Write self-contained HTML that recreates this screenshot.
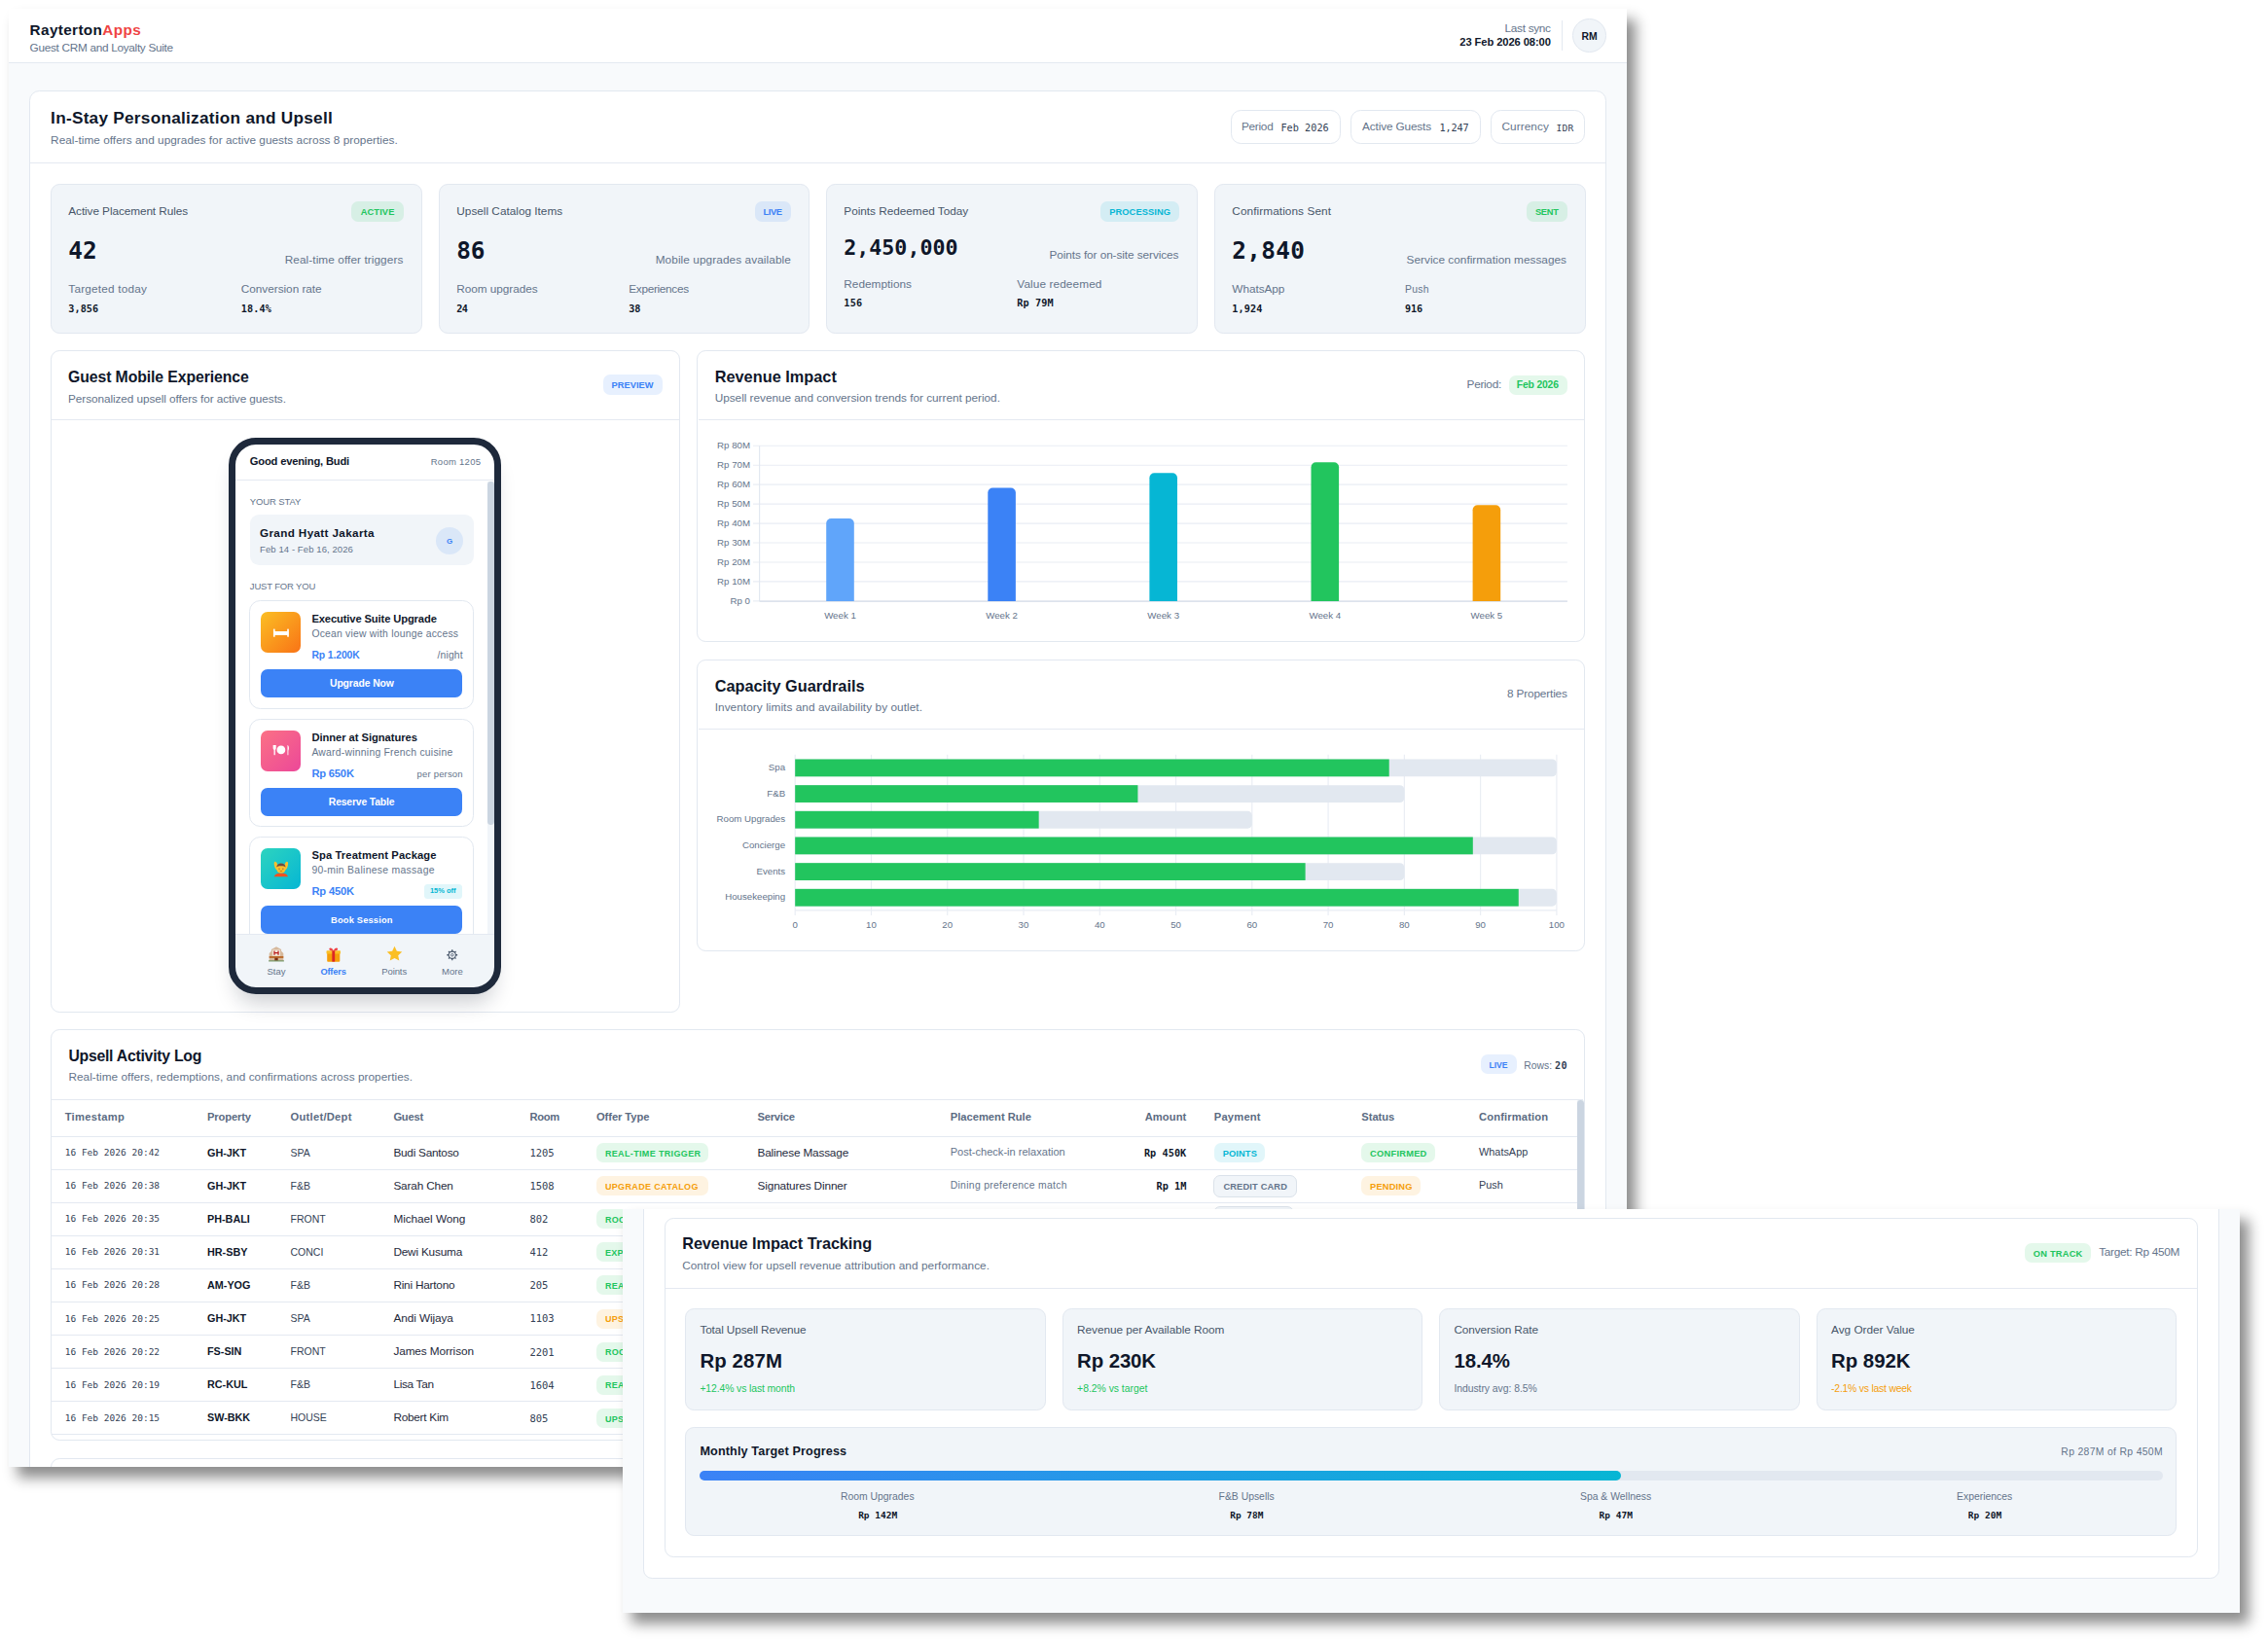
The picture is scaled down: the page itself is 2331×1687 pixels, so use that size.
<!DOCTYPE html>
<html lang="en"><head><meta charset="utf-8"><title>RaytertonApps - In-Stay Personalization and Upsell</title><style>html,body{margin:0;padding:0;background:#fff}
body{width:2331px;height:1687px;position:relative;overflow:hidden;font-family:"Liberation Sans",sans-serif}
.shot{position:absolute;overflow:hidden;background:#f8fafc}
.b{position:absolute;box-sizing:border-box}
.t{position:absolute;white-space:nowrap;line-height:0;font-family:"Liberation Sans",sans-serif}
.t::before{content:"";display:inline-block;height:24px;width:0}
svg text{font-family:"Liberation Sans",sans-serif}
</style></head><body>
<div class="shot" style="left:9.00px;top:9.00px;width:1663.00px;height:1499.00px;box-shadow:9px 11px 13px rgba(0,0,0,.45)"><div class="b" style="left:0.00px;top:0.00px;width:1663.00px;height:55.30px;background:#fff;"></div>
<div class="b" style="left:0.00px;top:55.00px;width:1663.00px;height:1.00px;background:#e4e9f1;"></div>
<span class="t" style="left:21.60px;top:3.10px;font-size:15.30px;color:#0f172a;font-weight:700;letter-spacing:0.367px;">Rayterton<span style="color:#ef4444">Apps</span></span>
<span class="t" style="left:21.60px;top:19.90px;font-size:11.80px;color:#64748b;letter-spacing:-0.303px;">Guest CRM and Loyalty Suite</span>
<span class="t" style="left:1537.60px;top:0.10px;font-size:11.80px;color:#64748b;letter-spacing:-0.307px;">Last sync</span>
<span class="t" style="left:1491.30px;top:14.00px;font-size:11.20px;color:#0f172a;font-weight:700;letter-spacing:-0.097px;">23 Feb 2026 08:00</span>
<div class="b" style="left:1596.00px;top:12.40px;width:1.00px;height:30.60px;background:#e4e9f1;"></div>
<div class="b" style="left:1607.10px;top:10.30px;width:34.80px;height:34.80px;background:#f1f5f9;border:1.15px solid #e2e8f0;border-radius:50%;"></div>
<span class="t" style="left:1616.50px;top:7.80px;font-size:10.40px;color:#0f172a;font-weight:700;letter-spacing:-0.072px;">RM</span>
<div class="b" style="left:20.70px;top:83.70px;width:1621.60px;height:1507.80px;background:#fff;border:1.15px solid #e2e8f0;border-radius:10.4px;"></div>
<div class="b" style="left:22.00px;top:158.00px;width:1619.00px;height:1.00px;background:#e4e9f1;"></div>
<span class="t" style="left:43.10px;top:93.90px;font-size:17.20px;color:#0f172a;font-weight:700;letter-spacing:0.268px;">In-Stay Personalization and Upsell</span>
<span class="t" style="left:43.10px;top:115.40px;font-size:11.80px;color:#64748b;letter-spacing:0.032px;">Real-time offers and upgrades for active guests across 8 properties.</span>
<div class="b" style="left:1255.80px;top:103.50px;width:113.20px;height:35.30px;background:#fff;border:1.15px solid #e2e8f0;border-radius:10.4px;"></div>
<span class="t" style="left:1267.00px;top:100.80px;font-size:11.80px;color:#64748b;letter-spacing:-0.280px;">Period</span>
<span class="t" style="left:1307.40px;top:101.90px;font-size:10.20px;color:#334155;font-family:'DejaVu Sans Mono','Liberation Mono',monospace;letter-spacing:0.041px;">Feb 2026</span>
<div class="b" style="left:1378.60px;top:103.50px;width:134.50px;height:35.30px;background:#fff;border:1.15px solid #e2e8f0;border-radius:10.4px;"></div>
<span class="t" style="left:1391.00px;top:100.80px;font-size:11.80px;color:#64748b;letter-spacing:-0.134px;">Active Guests</span>
<span class="t" style="left:1470.50px;top:101.90px;font-size:10.20px;color:#334155;font-family:'DejaVu Sans Mono','Liberation Mono',monospace;letter-spacing:-0.125px;">1,247</span>
<div class="b" style="left:1522.70px;top:103.50px;width:97.50px;height:35.30px;background:#fff;border:1.15px solid #e2e8f0;border-radius:10.4px;"></div>
<span class="t" style="left:1534.50px;top:100.80px;font-size:11.80px;color:#64748b;letter-spacing:0.064px;">Currency</span>
<span class="t" style="left:1590.50px;top:101.90px;font-size:9.50px;color:#334155;font-family:'DejaVu Sans Mono','Liberation Mono',monospace;letter-spacing:0.302px;">IDR</span>
<div class="b" style="left:43.00px;top:179.50px;width:381.80px;height:154.20px;background:#f1f5f9;border:1.15px solid #e2e8f0;border-radius:9.2px;"></div>
<span class="t" style="left:61.30px;top:188.40px;font-size:11.80px;color:#475569;letter-spacing:-0.086px;">Active Placement Rules</span>
<div class="b" style="left:352.00px;top:198.30px;width:53.80px;height:21.20px;background:rgba(34,197,94,0.120);border-radius:7.0px;"></div>
<span class="t" style="left:361.70px;top:188.40px;font-size:9.30px;color:#22c55e;font-weight:700;letter-spacing:0.123px;">ACTIVE</span>
<span class="t" style="left:61.30px;top:233.40px;font-size:24.40px;color:#0f172a;font-weight:700;font-family:'DejaVu Sans Mono','Liberation Mono',monospace;letter-spacing:-0.102px;">42</span>
<span class="t" style="left:283.70px;top:238.20px;font-size:11.80px;color:#64748b;letter-spacing:0.080px;">Real-time offer triggers</span>
<span class="t" style="left:61.30px;top:267.80px;font-size:11.80px;color:#64748b;letter-spacing:0.188px;">Targeted today</span>
<span class="t" style="left:238.80px;top:267.80px;font-size:11.80px;color:#64748b;letter-spacing:-0.029px;">Conversion rate</span>
<span class="t" style="left:61.30px;top:287.60px;font-size:10.20px;color:#0f172a;font-weight:700;font-family:'DejaVu Sans Mono','Liberation Mono',monospace;letter-spacing:0.050px;">3,856</span>
<span class="t" style="left:238.80px;top:287.60px;font-size:10.20px;color:#0f172a;font-weight:700;font-family:'DejaVu Sans Mono','Liberation Mono',monospace;letter-spacing:0.124px;">18.4%</span>
<div class="b" style="left:442.00px;top:179.50px;width:381.40px;height:154.20px;background:#f1f5f9;border:1.15px solid #e2e8f0;border-radius:9.2px;"></div>
<span class="t" style="left:460.30px;top:188.40px;font-size:11.80px;color:#475569;">Upsell Catalog Items</span>
<div class="b" style="left:766.90px;top:198.30px;width:37.10px;height:21.20px;background:rgba(59,130,246,0.120);border-radius:7.0px;"></div>
<span class="t" style="left:775.40px;top:188.40px;font-size:9.30px;color:#3b82f6;font-weight:700;letter-spacing:-0.364px;">LIVE</span>
<span class="t" style="left:460.30px;top:233.40px;font-size:24.40px;color:#0f172a;font-weight:700;font-family:'DejaVu Sans Mono','Liberation Mono',monospace;letter-spacing:-0.202px;">86</span>
<span class="t" style="left:664.70px;top:238.20px;font-size:11.80px;color:#64748b;letter-spacing:0.087px;">Mobile upgrades available</span>
<span class="t" style="left:460.30px;top:267.80px;font-size:11.80px;color:#64748b;letter-spacing:-0.055px;">Room upgrades</span>
<span class="t" style="left:637.30px;top:267.80px;font-size:11.80px;color:#64748b;letter-spacing:-0.316px;">Experiences</span>
<span class="t" style="left:460.30px;top:287.60px;font-size:10.20px;color:#0f172a;font-weight:700;font-family:'DejaVu Sans Mono','Liberation Mono',monospace;letter-spacing:-0.591px;">24</span>
<span class="t" style="left:637.30px;top:287.60px;font-size:10.20px;color:#0f172a;font-weight:700;font-family:'DejaVu Sans Mono','Liberation Mono',monospace;letter-spacing:-0.091px;">38</span>
<div class="b" style="left:840.00px;top:179.50px;width:382.00px;height:154.20px;background:#f1f5f9;border:1.15px solid #e2e8f0;border-radius:9.2px;"></div>
<span class="t" style="left:858.30px;top:188.40px;font-size:11.80px;color:#475569;letter-spacing:-0.024px;">Points Redeemed Today</span>
<div class="b" style="left:1122.40px;top:198.30px;width:81.10px;height:21.20px;background:rgba(6,182,212,0.120);border-radius:7.0px;"></div>
<span class="t" style="left:1131.20px;top:188.40px;font-size:9.30px;color:#06b6d4;font-weight:700;letter-spacing:0.085px;">PROCESSING</span>
<span class="t" style="left:858.30px;top:228.80px;font-size:21.64px;color:#0f172a;font-weight:700;font-family:'DejaVu Sans Mono','Liberation Mono',monospace;">2,450,000</span>
<span class="t" style="left:1069.40px;top:232.70px;font-size:11.80px;color:#64748b;letter-spacing:-0.077px;">Points for on-site services</span>
<span class="t" style="left:858.30px;top:262.50px;font-size:11.80px;color:#64748b;letter-spacing:0.020px;">Redemptions</span>
<span class="t" style="left:1036.30px;top:262.50px;font-size:11.80px;color:#64748b;letter-spacing:0.106px;">Value redeemed</span>
<span class="t" style="left:858.30px;top:282.30px;font-size:10.20px;color:#0f172a;font-weight:700;font-family:'DejaVu Sans Mono','Liberation Mono',monospace;letter-spacing:0.245px;">156</span>
<span class="t" style="left:1036.30px;top:282.30px;font-size:10.20px;color:#0f172a;font-weight:700;font-family:'DejaVu Sans Mono','Liberation Mono',monospace;letter-spacing:0.116px;">Rp 79M</span>
<div class="b" style="left:1239.00px;top:179.50px;width:381.50px;height:154.20px;background:#f1f5f9;border:1.15px solid #e2e8f0;border-radius:9.2px;"></div>
<span class="t" style="left:1257.30px;top:188.40px;font-size:11.80px;color:#475569;letter-spacing:0.079px;">Confirmations Sent</span>
<div class="b" style="left:1560.10px;top:198.30px;width:41.60px;height:21.20px;background:rgba(34,197,94,0.120);border-radius:7.0px;"></div>
<span class="t" style="left:1568.90px;top:188.40px;font-size:9.30px;color:#22c55e;font-weight:700;letter-spacing:-0.262px;">SENT</span>
<span class="t" style="left:1257.30px;top:232.70px;font-size:24.40px;color:#0f172a;font-weight:700;font-family:'DejaVu Sans Mono','Liberation Mono',monospace;letter-spacing:0.289px;">2,840</span>
<span class="t" style="left:1436.60px;top:238.20px;font-size:11.80px;color:#64748b;letter-spacing:0.016px;">Service confirmation messages</span>
<span class="t" style="left:1257.30px;top:267.80px;font-size:11.80px;color:#64748b;letter-spacing:-0.051px;">WhatsApp</span>
<span class="t" style="left:1434.90px;top:267.80px;font-size:10.40px;color:#64748b;letter-spacing:0.329px;">Push</span>
<span class="t" style="left:1257.30px;top:287.60px;font-size:10.20px;color:#0f172a;font-weight:700;font-family:'DejaVu Sans Mono','Liberation Mono',monospace;letter-spacing:0.125px;">1,924</span>
<span class="t" style="left:1434.90px;top:287.60px;font-size:10.20px;color:#0f172a;font-weight:700;font-family:'DejaVu Sans Mono','Liberation Mono',monospace;letter-spacing:-0.056px;">916</span>
<div class="b" style="left:42.50px;top:351.00px;width:647.80px;height:680.80px;background:#fff;border:1.15px solid #e2e8f0;border-radius:9.2px;"></div>
<div class="b" style="left:44.00px;top:422.00px;width:644.80px;height:1.00px;background:#e4e9f1;"></div>
<span class="t" style="left:61.00px;top:359.90px;font-size:15.80px;color:#0f172a;font-weight:700;letter-spacing:-0.093px;">Guest Mobile Experience</span>
<span class="t" style="left:61.00px;top:380.60px;font-size:11.80px;color:#64748b;letter-spacing:-0.077px;">Personalized upsell offers for active guests.</span>
<div class="b" style="left:610.60px;top:376.40px;width:61.20px;height:20.70px;background:rgba(59,130,246,0.120);border-radius:7.0px;"></div>
<span class="t" style="left:619.60px;top:365.90px;font-size:9.30px;color:#3b82f6;font-weight:700;">PREVIEW</span>
<div class="b" style="left:229.20px;top:443.90px;width:273.50px;height:566.10px;background:#fff;border-radius:24.0px;"></div>
<span class="t" style="left:247.80px;top:445.30px;font-size:11.20px;color:#0f172a;font-weight:700;letter-spacing:-0.193px;">Good evening, Budi</span>
<span class="t" style="left:433.70px;top:445.00px;font-size:9.50px;color:#64748b;letter-spacing:0.273px;">Room 1205</span>
<div class="b" style="left:233.00px;top:484.00px;width:266.00px;height:1.00px;background:#e4e9f1;"></div>
<div class="b" style="left:491.90px;top:485.50px;width:6.90px;height:465.50px;background:#f1f5f9;"></div>
<div class="b" style="left:491.90px;top:485.50px;width:6.90px;height:353.80px;background:#cbd5e1;border-radius:3.4px;"></div>
<span class="t" style="left:247.80px;top:485.80px;font-size:9.50px;color:#64748b;letter-spacing:-0.123px;">YOUR STAY</span>
<div class="b" style="left:247.50px;top:520.30px;width:230.30px;height:52.20px;background:#f1f5f9;border-radius:9.2px;"></div>
<span class="t" style="left:258.00px;top:518.80px;font-size:11.70px;color:#0f172a;font-weight:700;letter-spacing:0.360px;">Grand Hyatt Jakarta</span>
<span class="t" style="left:258.00px;top:535.00px;font-size:9.50px;color:#64748b;letter-spacing:0.095px;">Feb 14 - Feb 16, 2026</span>
<div class="b" style="left:439.20px;top:532.70px;width:28.00px;height:28.00px;background:rgba(59,130,246,0.120);border-radius:50%;"></div>
<span class="t" style="left:450.08px;top:525.60px;font-size:8.00px;color:#3b82f6;font-weight:700;">G</span>
<span class="t" style="left:247.80px;top:573.40px;font-size:9.50px;color:#64748b;letter-spacing:-0.168px;">JUST FOR YOU</span>
<div class="b" style="left:247.00px;top:608.00px;width:231.30px;height:111.70px;background:#fff;border:1.15px solid #e2e8f0;border-radius:11.5px;"></div>
<div class="b" style="left:258.50px;top:619.90px;width:41.80px;height:41.80px;background:linear-gradient(135deg,#fbbf24,#f97316);border-radius:7.0px;"><svg viewBox="0 0 42 42" width="100%" height="100%"><g fill="#fff"><rect x="13" y="17.6" width="1.7" height="8.4" rx=".6"/><rect x="27.3" y="17.6" width="1.7" height="8.4" rx=".6"/><rect x="13.5" y="20" width="15" height="4" rx=".8"/></g></svg></div>
<span class="t" style="left:311.40px;top:607.30px;font-size:11.20px;color:#0f172a;font-weight:700;letter-spacing:-0.124px;">Executive Suite Upgrade</span>
<span class="t" style="left:311.40px;top:621.60px;font-size:10.40px;color:#64748b;letter-spacing:0.204px;">Ocean view with lounge access</span>
<span class="t" style="left:311.40px;top:643.80px;font-size:10.40px;color:#3b82f6;font-weight:700;letter-spacing:-0.110px;">Rp 1.200K</span>
<span class="t" style="left:440.60px;top:644.00px;font-size:10.40px;color:#64748b;letter-spacing:0.114px;">/night</span>
<div class="b" style="left:258.60px;top:679.10px;width:207.80px;height:28.60px;background:#3b82f6;border-radius:7.0px;"></div>
<span class="t" style="left:330.00px;top:672.60px;font-size:10.40px;color:#fff;font-weight:700;letter-spacing:-0.113px;">Upgrade Now</span>
<div class="b" style="left:247.00px;top:730.00px;width:231.30px;height:110.80px;background:#fff;border:1.15px solid #e2e8f0;border-radius:11.5px;"></div>
<div class="b" style="left:258.50px;top:741.90px;width:41.80px;height:41.80px;background:linear-gradient(135deg,#fb7185,#ec4899);border-radius:7.0px;"><svg viewBox="0 0 42 42" width="100%" height="100%"><g fill="#fff"><circle cx="21" cy="20" r="4.4"/><rect x="13.6" y="15" width="1.3" height="10.4" rx=".6"/><path d="M12.7 15h3.100v3.300a1.550 1.550 0 0 1-3.100 0z"/><path d="M27.600 25.400V15c1.700.600 1.900 4 .900 5.800v4.600z"/></g></svg></div>
<span class="t" style="left:311.40px;top:729.30px;font-size:11.20px;color:#0f172a;font-weight:700;letter-spacing:-0.044px;">Dinner at Signatures</span>
<span class="t" style="left:311.40px;top:743.60px;font-size:10.40px;color:#64748b;letter-spacing:0.236px;">Award-winning French cuisine</span>
<span class="t" style="left:311.40px;top:765.80px;font-size:11.20px;color:#3b82f6;font-weight:700;letter-spacing:-0.200px;">Rp 650K</span>
<span class="t" style="left:419.60px;top:766.00px;font-size:9.50px;color:#64748b;letter-spacing:0.177px;">per person</span>
<div class="b" style="left:258.60px;top:801.10px;width:207.80px;height:28.60px;background:#3b82f6;border-radius:7.0px;"></div>
<span class="t" style="left:328.80px;top:794.60px;font-size:10.40px;color:#fff;font-weight:700;letter-spacing:-0.165px;">Reserve Table</span>
<div class="b" style="left:247.00px;top:850.90px;width:231.30px;height:115.60px;background:#fff;border:1.15px solid #e2e8f0;border-radius:11.5px;"></div>
<div class="b" style="left:258.50px;top:862.80px;width:41.80px;height:41.80px;background:linear-gradient(135deg,#2dd4bf,#06b6d4);border-radius:7.0px;"><svg viewBox="0 0 42 42" width="100%" height="100%"><path d="M13.800 29.300c1.200-2.800 4-3.600 7.200-3.600s6 .8 7.200 3.600z" fill="#f4511e"/><ellipse cx="15.800" cy="18" rx="1.700" ry="4.300" transform="rotate(-14 15.800 18)" fill="#fbc02d"/><ellipse cx="26.200" cy="18" rx="1.700" ry="4.300" transform="rotate(14 26.200 18)" fill="#fbc02d"/><circle cx="21" cy="20.800" r="4.900" fill="#fbc02d"/><path d="M16.300 19.600c.300-5.400 9.100-5.400 9.400 0-1.600-1.700-7.800-1.700-9.400 0z" fill="#6d4c41"/><path d="M18.300 21.300h1.600M22.100 21.300h1.600" stroke="#6d4c41" stroke-width=".7"/><path d="M19.600 23.300q1.400.9 2.800 0" stroke="#a1530f" stroke-width=".6" fill="none"/></svg></div>
<span class="t" style="left:311.40px;top:850.20px;font-size:11.20px;color:#0f172a;font-weight:700;letter-spacing:0.126px;">Spa Treatment Package</span>
<span class="t" style="left:311.40px;top:864.50px;font-size:10.40px;color:#64748b;letter-spacing:0.298px;">90-min Balinese massage</span>
<span class="t" style="left:311.40px;top:886.70px;font-size:11.20px;color:#3b82f6;font-weight:700;letter-spacing:-0.167px;">Rp 450K</span>
<div class="b" style="left:426.50px;top:899.60px;width:39.90px;height:15.40px;background:rgba(6,182,212,0.120);border-radius:3.5px;"></div>
<span class="t" style="left:432.90px;top:885.20px;font-size:7.53px;color:#06b6d4;font-weight:700;">15% off</span>
<div class="b" style="left:258.60px;top:922.00px;width:207.80px;height:28.60px;background:#3b82f6;border-radius:7.0px;"></div>
<span class="t" style="left:331.10px;top:915.50px;font-size:9.30px;color:#fff;font-weight:700;letter-spacing:0.171px;">Book Session</span>
<div class="b" style="left:232.00px;top:951.40px;width:268.00px;height:55.60px;background:#f1f5f9;border-radius:0 0 22px 22px;"></div>
<div class="b" style="left:232.00px;top:951.00px;width:268.00px;height:1.00px;background:#e4e9f1;"></div>
<div class="b" style="left:266.20px;top:962.80px;width:18.00px;height:18.00px;"><svg viewBox="0 0 16 16" width="100%" height="100%"><path d="M1.500 14V7l2-2v-1.500l4.500-2.500 4.500 2.500V5l2 2v7z" fill="#d6b89c"/><rect x="4.500" y="4" width="7" height="5.500" fill="#f5e9dc"/><path d="M6.200 4.800v3.900M9.800 4.800v3.900M6.200 6.750h3.600" stroke="#b91c1c" stroke-width="1.100" fill="none"/><rect x="1.500" y="10" width="13" height="1.300" fill="#b45309"/><rect x="6.500" y="11.300" width="3" height="2.700" fill="#7c2d12"/><rect x="1" y="13.600" width="14" height="1" fill="#6b8e5a"/></svg></div>
<span class="t" style="left:265.40px;top:968.90px;font-size:9.50px;color:#64748b;letter-spacing:0.067px;">Stay</span>
<div class="b" style="left:325.25px;top:963.05px;width:17.50px;height:17.50px;"><svg viewBox="0 0 16 16" width="100%" height="100%"><rect x="2" y="6.500" width="12" height="8.700" rx=".8" fill="#f59e0b"/><rect x="1.400" y="4.800" width="13.200" height="3" rx=".6" fill="#fbbf24"/><rect x="6.700" y="4.800" width="2.600" height="10.400" fill="#dc2626"/><path d="M8 4.900c-2-4.200-5.400-2.300-3.500-.500.900.700 2.500.500 3.500.500zM8 4.900c2-4.200 5.400-2.300 3.500-.500-.900.700-2.500.500-3.500.500z" fill="#ef4444"/></svg></div>
<span class="t" style="left:320.40px;top:968.90px;font-size:9.30px;color:#3b82f6;font-weight:700;letter-spacing:-0.178px;">Offers</span>
<div class="b" style="left:387.90px;top:963.30px;width:17.00px;height:17.00px;"><svg viewBox="0 0 16 16" width="100%" height="100%"><path d="M8 .8l2.200 4.700 5.100.600-3.800 3.500 1 5.100L8 12.200l-4.500 2.500 1-5.100L.7 6.100l5.100-.600z" fill="#fbbf24"/></svg></div>
<span class="t" style="left:383.20px;top:968.90px;font-size:9.50px;color:#64748b;letter-spacing:-0.082px;">Points</span>
<div class="b" style="left:449.45px;top:965.05px;width:13.50px;height:13.50px;"><svg viewBox="0 0 16 16" width="100%" height="100%"><g fill="none" stroke="#475569"><circle cx="8" cy="8" r="4.300" stroke-width="1.300"/><circle cx="8" cy="8" r="1.500" stroke-width="1"/><path d="M8 1.600v2M8 12.400v2M1.600 8h2M12.400 8h2M3.500 3.500l1.400 1.400M11.100 11.100l1.400 1.400M3.500 12.500l1.400-1.400M11.100 4.900l1.400-1.400" stroke-width="1.500"/></g></svg></div>
<span class="t" style="left:445.00px;top:968.90px;font-size:9.50px;color:#64748b;letter-spacing:0.047px;">More</span>
<div class="b" style="left:226.20px;top:440.90px;width:279.50px;height:572.10px;border:7px solid #1e293b;border-radius:28.0px;box-shadow:0 16px 22px -8px rgba(15,23,42,.22);"></div>
<div class="b" style="left:707.40px;top:351.10px;width:913.10px;height:300.20px;background:#fff;border:1.15px solid #e2e8f0;border-radius:9.2px;"></div>
<div class="b" style="left:708.90px;top:422.00px;width:910.10px;height:1.00px;background:#e4e9f1;"></div>
<span class="t" style="left:725.70px;top:359.80px;font-size:16.30px;color:#0f172a;font-weight:700;letter-spacing:0.021px;">Revenue Impact</span>
<span class="t" style="left:725.70px;top:380.10px;font-size:11.80px;color:#64748b;letter-spacing:-0.022px;">Upsell revenue and conversion trends for current period.</span>
<span class="t" style="left:1498.60px;top:366.10px;font-size:11.80px;color:#64748b;letter-spacing:-0.301px;">Period:</span>
<div class="b" style="left:1541.80px;top:376.60px;width:60.10px;height:20.30px;background:rgba(34,197,94,0.120);border-radius:7.0px;"></div>
<span class="t" style="left:1549.80px;top:366.10px;font-size:10.40px;color:#22c55e;font-weight:700;letter-spacing:-0.187px;">Feb 2026</span>
<svg class="b" style="left:709.00px;top:424.00px;width:910.00px;height:226.00px" viewBox="718 433 910 226"><line x1="774" x2="1610.9" y1="617.90" y2="617.90" stroke="#e9edf4" stroke-width="1.15"/><text x="771" y="620.50" text-anchor="end" font-size="9.7" fill="#64748b">Rp 0</text><line x1="774" x2="1610.9" y1="597.94" y2="597.94" stroke="#e9edf4" stroke-width="1.15"/><text x="771" y="600.54" text-anchor="end" font-size="9.7" fill="#64748b">Rp 10M</text><line x1="774" x2="1610.9" y1="577.99" y2="577.99" stroke="#e9edf4" stroke-width="1.15"/><text x="771" y="580.59" text-anchor="end" font-size="9.7" fill="#64748b">Rp 20M</text><line x1="774" x2="1610.9" y1="558.03" y2="558.03" stroke="#e9edf4" stroke-width="1.15"/><text x="771" y="560.63" text-anchor="end" font-size="9.7" fill="#64748b">Rp 30M</text><line x1="774" x2="1610.9" y1="538.08" y2="538.08" stroke="#e9edf4" stroke-width="1.15"/><text x="771" y="540.68" text-anchor="end" font-size="9.7" fill="#64748b">Rp 40M</text><line x1="774" x2="1610.9" y1="518.12" y2="518.12" stroke="#e9edf4" stroke-width="1.15"/><text x="771" y="520.72" text-anchor="end" font-size="9.7" fill="#64748b">Rp 50M</text><line x1="774" x2="1610.9" y1="498.16" y2="498.16" stroke="#e9edf4" stroke-width="1.15"/><text x="771" y="500.76" text-anchor="end" font-size="9.7" fill="#64748b">Rp 60M</text><line x1="774" x2="1610.9" y1="478.21" y2="478.21" stroke="#e9edf4" stroke-width="1.15"/><text x="771" y="480.81" text-anchor="end" font-size="9.7" fill="#64748b">Rp 70M</text><line x1="774" x2="1610.9" y1="458.25" y2="458.25" stroke="#e9edf4" stroke-width="1.15"/><text x="771" y="460.85" text-anchor="end" font-size="9.7" fill="#64748b">Rp 80M</text><line x1="780.6" x2="780.6" y1="458.2" y2="618" stroke="#e2e8f0" stroke-width="1.15"/><line x1="780.6" x2="1610.9" y1="618.20" y2="618.20" stroke="#dde3ec" stroke-width="1.6"/><path d="M849.20 617.90V538.00a5 5 0 0 1 5 -5H872.80a5 5 0 0 1 5 5V617.90z" fill="#60a5fa"/><text x="863.50" y="635.8" text-anchor="middle" font-size="9.7" fill="#64748b">Week 1</text><path d="M1015.30 617.90V506.50a5 5 0 0 1 5 -5H1038.90a5 5 0 0 1 5 5V617.90z" fill="#3b82f6"/><text x="1029.60" y="635.8" text-anchor="middle" font-size="9.7" fill="#64748b">Week 2</text><path d="M1181.40 617.90V491.30a5 5 0 0 1 5 -5H1205.00a5 5 0 0 1 5 5V617.90z" fill="#06b6d4"/><text x="1195.70" y="635.8" text-anchor="middle" font-size="9.7" fill="#64748b">Week 3</text><path d="M1347.50 617.90V480.30a5 5 0 0 1 5 -5H1371.10a5 5 0 0 1 5 5V617.90z" fill="#22c55e"/><text x="1361.80" y="635.8" text-anchor="middle" font-size="9.7" fill="#64748b">Week 4</text><path d="M1513.60 617.90V524.30a5 5 0 0 1 5 -5H1537.20a5 5 0 0 1 5 5V617.90z" fill="#f59e0b"/><text x="1527.90" y="635.8" text-anchor="middle" font-size="9.7" fill="#64748b">Week 5</text></svg>
<div class="b" style="left:707.40px;top:669.00px;width:913.10px;height:300.20px;background:#fff;border:1.15px solid #e2e8f0;border-radius:9.2px;"></div>
<div class="b" style="left:708.90px;top:740.00px;width:910.10px;height:1.00px;background:#e4e9f1;"></div>
<span class="t" style="left:725.70px;top:677.60px;font-size:16.30px;color:#0f172a;font-weight:700;">Capacity Guardrails</span>
<span class="t" style="left:725.70px;top:698.00px;font-size:11.80px;color:#64748b;letter-spacing:0.065px;">Inventory limits and availability by outlet.</span>
<span class="t" style="left:1540.10px;top:683.60px;font-size:11.80px;color:#64748b;letter-spacing:-0.164px;">8 Properties</span>
<svg class="b" style="left:709.00px;top:742.00px;width:910.00px;height:226.00px" viewBox="718 751 910 226"><line x1="817.20" x2="817.20" y1="775.8" y2="941" stroke="#e9edf4" stroke-width="1.15"/><text x="817.20" y="953.6" text-anchor="middle" font-size="9.7" fill="#64748b">0</text><line x1="895.47" x2="895.47" y1="775.8" y2="941" stroke="#e9edf4" stroke-width="1.15"/><text x="895.47" y="953.6" text-anchor="middle" font-size="9.7" fill="#64748b">10</text><line x1="973.74" x2="973.74" y1="775.8" y2="941" stroke="#e9edf4" stroke-width="1.15"/><text x="973.74" y="953.6" text-anchor="middle" font-size="9.7" fill="#64748b">20</text><line x1="1052.01" x2="1052.01" y1="775.8" y2="941" stroke="#e9edf4" stroke-width="1.15"/><text x="1052.01" y="953.6" text-anchor="middle" font-size="9.7" fill="#64748b">30</text><line x1="1130.28" x2="1130.28" y1="775.8" y2="941" stroke="#e9edf4" stroke-width="1.15"/><text x="1130.28" y="953.6" text-anchor="middle" font-size="9.7" fill="#64748b">40</text><line x1="1208.55" x2="1208.55" y1="775.8" y2="941" stroke="#e9edf4" stroke-width="1.15"/><text x="1208.55" y="953.6" text-anchor="middle" font-size="9.7" fill="#64748b">50</text><line x1="1286.82" x2="1286.82" y1="775.8" y2="941" stroke="#e9edf4" stroke-width="1.15"/><text x="1286.82" y="953.6" text-anchor="middle" font-size="9.7" fill="#64748b">60</text><line x1="1365.09" x2="1365.09" y1="775.8" y2="941" stroke="#e9edf4" stroke-width="1.15"/><text x="1365.09" y="953.6" text-anchor="middle" font-size="9.7" fill="#64748b">70</text><line x1="1443.36" x2="1443.36" y1="775.8" y2="941" stroke="#e9edf4" stroke-width="1.15"/><text x="1443.36" y="953.6" text-anchor="middle" font-size="9.7" fill="#64748b">80</text><line x1="1521.63" x2="1521.63" y1="775.8" y2="941" stroke="#e9edf4" stroke-width="1.15"/><text x="1521.63" y="953.6" text-anchor="middle" font-size="9.7" fill="#64748b">90</text><line x1="1599.90" x2="1599.90" y1="775.8" y2="941" stroke="#e9edf4" stroke-width="1.15"/><text x="1599.90" y="953.6" text-anchor="middle" font-size="9.7" fill="#64748b">100</text><line x1="817.20" x2="1600" y1="935.8" y2="935.8" stroke="#e9edf4" stroke-width="1.15"/><path d="M817.20 780.50H1595.40a4.5 4.5 0 0 1 4.5 4.5V793.80a4.5 4.5 0 0 1 -4.5 4.5H817.20z" fill="#e2e8f0"/><rect x="817.20" y="780.50" width="610.51" height="17.80" fill="#22c55e"/><text x="807.1" y="792.10" text-anchor="end" font-size="9.7" fill="#64748b">Spa</text><path d="M817.20 807.17H1438.86a4.5 4.5 0 0 1 4.5 4.5V820.47a4.5 4.5 0 0 1 -4.5 4.5H817.20z" fill="#e2e8f0"/><rect x="817.20" y="807.17" width="352.22" height="17.80" fill="#22c55e"/><text x="807.1" y="818.77" text-anchor="end" font-size="9.7" fill="#64748b">F&amp;B</text><path d="M817.20 833.84H1282.32a4.5 4.5 0 0 1 4.5 4.5V847.14a4.5 4.5 0 0 1 -4.5 4.5H817.20z" fill="#e2e8f0"/><rect x="817.20" y="833.84" width="250.46" height="17.80" fill="#22c55e"/><text x="807.1" y="845.44" text-anchor="end" font-size="9.7" fill="#64748b">Room Upgrades</text><path d="M817.20 860.51H1595.40a4.5 4.5 0 0 1 4.5 4.5V873.81a4.5 4.5 0 0 1 -4.5 4.5H817.20z" fill="#e2e8f0"/><rect x="817.20" y="860.51" width="696.60" height="17.80" fill="#22c55e"/><text x="807.1" y="872.11" text-anchor="end" font-size="9.7" fill="#64748b">Concierge</text><path d="M817.20 887.18H1438.86a4.5 4.5 0 0 1 4.5 4.5V900.48a4.5 4.5 0 0 1 -4.5 4.5H817.20z" fill="#e2e8f0"/><rect x="817.20" y="887.18" width="524.41" height="17.80" fill="#22c55e"/><text x="807.1" y="898.78" text-anchor="end" font-size="9.7" fill="#64748b">Events</text><path d="M817.20 913.85H1595.40a4.5 4.5 0 0 1 4.5 4.5V927.15a4.5 4.5 0 0 1 -4.5 4.5H817.20z" fill="#e2e8f0"/><rect x="817.20" y="913.85" width="743.57" height="17.80" fill="#22c55e"/><text x="807.1" y="925.45" text-anchor="end" font-size="9.7" fill="#64748b">Housekeeping</text></svg>
<div class="b" style="left:42.70px;top:1049.00px;width:1577.30px;height:423.30px;background:#fff;border:1.15px solid #e2e8f0;border-radius:9.2px;"></div>
<div class="b" style="left:44.20px;top:1121.00px;width:1574.30px;height:1.00px;background:#e4e9f1;"></div>
<span class="t" style="left:61.40px;top:1057.70px;font-size:15.80px;color:#0f172a;font-weight:700;letter-spacing:-0.258px;">Upsell Activity Log</span>
<span class="t" style="left:61.40px;top:1078.10px;font-size:11.80px;color:#64748b;letter-spacing:0.036px;">Real-time offers, redemptions, and confirmations across properties.</span>
<div class="b" style="left:1512.90px;top:1075.10px;width:37.00px;height:20.30px;background:rgba(59,130,246,0.120);border-radius:7.0px;"></div>
<span class="t" style="left:1521.40px;top:1065.10px;font-size:8.63px;color:#3b82f6;font-weight:700;">LIVE</span>
<span class="t" style="left:1557.30px;top:1065.50px;font-size:10.40px;color:#64748b;">Rows:</span>
<span class="t" style="left:1589.10px;top:1065.50px;font-size:10.20px;color:#334155;font-weight:700;font-family:'DejaVu Sans Mono','Liberation Mono',monospace;letter-spacing:0.309px;">20</span>
<div class="b" style="left:44.00px;top:1159.00px;width:1568.00px;height:1.00px;background:#e4e9f1;"></div>
<span class="t" style="left:57.70px;top:1119.20px;font-size:11.20px;color:#5b6b82;font-weight:700;letter-spacing:0.274px;">Timestamp</span>
<span class="t" style="left:204.00px;top:1119.20px;font-size:11.20px;color:#5b6b82;font-weight:700;letter-spacing:-0.133px;">Property</span>
<span class="t" style="left:289.50px;top:1119.20px;font-size:11.20px;color:#5b6b82;font-weight:700;letter-spacing:0.263px;">Outlet/Dept</span>
<span class="t" style="left:395.40px;top:1119.20px;font-size:11.20px;color:#5b6b82;font-weight:700;letter-spacing:-0.238px;">Guest</span>
<span class="t" style="left:535.40px;top:1119.20px;font-size:11.20px;color:#5b6b82;font-weight:700;letter-spacing:-0.317px;">Room</span>
<span class="t" style="left:604.00px;top:1119.20px;font-size:11.20px;color:#5b6b82;font-weight:700;letter-spacing:-0.084px;">Offer Type</span>
<span class="t" style="left:769.50px;top:1119.20px;font-size:11.20px;color:#5b6b82;font-weight:700;letter-spacing:-0.229px;">Service</span>
<span class="t" style="left:967.70px;top:1119.20px;font-size:11.20px;color:#5b6b82;font-weight:700;letter-spacing:-0.006px;">Placement Rule</span>
<span class="t" style="left:1167.70px;top:1119.20px;font-size:11.20px;color:#5b6b82;font-weight:700;letter-spacing:0.064px;">Amount</span>
<span class="t" style="left:1238.80px;top:1119.20px;font-size:11.20px;color:#5b6b82;font-weight:700;letter-spacing:0.183px;">Payment</span>
<span class="t" style="left:1390.30px;top:1119.20px;font-size:11.20px;color:#5b6b82;font-weight:700;letter-spacing:-0.043px;">Status</span>
<span class="t" style="left:1511.00px;top:1119.20px;font-size:11.20px;color:#5b6b82;font-weight:700;letter-spacing:0.131px;">Confirmation</span>
<div class="b" style="left:1612.00px;top:1121.60px;width:7.00px;height:349.40px;background:#f1f5f9;"></div>
<div class="b" style="left:1612.00px;top:1121.60px;width:7.00px;height:209.40px;background:#cbd5e1;border-radius:3.4px;"></div>
<div class="b" style="left:44.00px;top:1193.00px;width:1568.00px;height:1.00px;background:#e4e9f1;"></div>
<span class="t" style="left:57.70px;top:1155.20px;font-size:9.50px;color:#334155;font-family:'DejaVu Sans Mono','Liberation Mono',monospace;letter-spacing:0.010px;">16 Feb 2026 20:42</span>
<span class="t" style="left:204.00px;top:1155.50px;font-size:10.80px;color:#0f172a;font-weight:700;">GH-JKT</span>
<span class="t" style="left:289.50px;top:1155.50px;font-size:10.50px;color:#334155;">SPA</span>
<span class="t" style="left:395.40px;top:1155.50px;font-size:11.80px;color:#1e293b;letter-spacing:-0.246px;">Budi Santoso</span>
<span class="t" style="left:535.40px;top:1156.10px;font-size:10.50px;color:#334155;font-family:'DejaVu Sans Mono','Liberation Mono',monospace;">1205</span>
<div class="b" style="left:604.00px;top:1166.20px;width:114.80px;height:20.00px;background:rgba(34,197,94,0.120);border-radius:7.0px;"></div>
<span class="t" style="left:612.90px;top:1156.00px;font-size:9.00px;color:#22c55e;font-weight:700;letter-spacing:0.350px;">REAL-TIME TRIGGER</span>
<div class="b" style="left:44.00px;top:1227.00px;width:1568.00px;height:1.00px;background:#e4e9f1;"></div>
<span class="t" style="left:57.70px;top:1189.27px;font-size:9.50px;color:#334155;font-family:'DejaVu Sans Mono','Liberation Mono',monospace;letter-spacing:0.010px;">16 Feb 2026 20:38</span>
<span class="t" style="left:204.00px;top:1189.57px;font-size:10.80px;color:#0f172a;font-weight:700;">GH-JKT</span>
<span class="t" style="left:289.50px;top:1189.57px;font-size:10.50px;color:#334155;">F&amp;B</span>
<span class="t" style="left:395.40px;top:1189.57px;font-size:11.80px;color:#1e293b;letter-spacing:-0.161px;">Sarah Chen</span>
<span class="t" style="left:535.40px;top:1190.17px;font-size:10.50px;color:#334155;font-family:'DejaVu Sans Mono','Liberation Mono',monospace;">1508</span>
<div class="b" style="left:604.00px;top:1200.27px;width:114.80px;height:20.00px;background:rgba(245,158,11,0.120);border-radius:7.0px;"></div>
<span class="t" style="left:612.90px;top:1190.07px;font-size:9.00px;color:#f59e0b;font-weight:700;letter-spacing:0.350px;">UPGRADE CATALOG</span>
<div class="b" style="left:44.00px;top:1261.00px;width:1568.00px;height:1.00px;background:#e4e9f1;"></div>
<span class="t" style="left:57.70px;top:1223.34px;font-size:9.50px;color:#334155;font-family:'DejaVu Sans Mono','Liberation Mono',monospace;letter-spacing:0.010px;">16 Feb 2026 20:35</span>
<span class="t" style="left:204.00px;top:1223.64px;font-size:10.80px;color:#0f172a;font-weight:700;">PH-BALI</span>
<span class="t" style="left:289.50px;top:1223.64px;font-size:10.50px;color:#334155;">FRONT</span>
<span class="t" style="left:395.40px;top:1223.64px;font-size:11.80px;color:#1e293b;letter-spacing:-0.052px;">Michael Wong</span>
<span class="t" style="left:535.40px;top:1224.24px;font-size:10.50px;color:#334155;font-family:'DejaVu Sans Mono','Liberation Mono',monospace;">802</span>
<div class="b" style="left:604.00px;top:1234.34px;width:114.80px;height:20.00px;background:rgba(34,197,94,0.120);border-radius:7.0px;"></div>
<span class="t" style="left:612.90px;top:1224.14px;font-size:9.00px;color:#22c55e;font-weight:700;letter-spacing:0.350px;">ROOM UPGRADE</span>
<div class="b" style="left:44.00px;top:1295.00px;width:1568.00px;height:1.00px;background:#e4e9f1;"></div>
<span class="t" style="left:57.70px;top:1257.41px;font-size:9.50px;color:#334155;font-family:'DejaVu Sans Mono','Liberation Mono',monospace;letter-spacing:0.010px;">16 Feb 2026 20:31</span>
<span class="t" style="left:204.00px;top:1257.71px;font-size:10.80px;color:#0f172a;font-weight:700;">HR-SBY</span>
<span class="t" style="left:289.50px;top:1257.71px;font-size:10.50px;color:#334155;">CONCI</span>
<span class="t" style="left:395.40px;top:1257.71px;font-size:11.80px;color:#1e293b;letter-spacing:-0.196px;">Dewi Kusuma</span>
<span class="t" style="left:535.40px;top:1258.31px;font-size:10.50px;color:#334155;font-family:'DejaVu Sans Mono','Liberation Mono',monospace;">412</span>
<div class="b" style="left:604.00px;top:1268.41px;width:114.80px;height:20.00px;background:rgba(34,197,94,0.120);border-radius:7.0px;"></div>
<span class="t" style="left:612.90px;top:1258.21px;font-size:9.00px;color:#22c55e;font-weight:700;letter-spacing:0.350px;">EXPERIENCE</span>
<div class="b" style="left:44.00px;top:1329.00px;width:1568.00px;height:1.00px;background:#e4e9f1;"></div>
<span class="t" style="left:57.70px;top:1291.48px;font-size:9.50px;color:#334155;font-family:'DejaVu Sans Mono','Liberation Mono',monospace;letter-spacing:0.010px;">16 Feb 2026 20:28</span>
<span class="t" style="left:204.00px;top:1291.78px;font-size:10.80px;color:#0f172a;font-weight:700;">AM-YOG</span>
<span class="t" style="left:289.50px;top:1291.78px;font-size:10.50px;color:#334155;">F&amp;B</span>
<span class="t" style="left:395.40px;top:1291.78px;font-size:11.80px;color:#1e293b;letter-spacing:-0.219px;">Rini Hartono</span>
<span class="t" style="left:535.40px;top:1292.38px;font-size:10.50px;color:#334155;font-family:'DejaVu Sans Mono','Liberation Mono',monospace;">205</span>
<div class="b" style="left:604.00px;top:1302.48px;width:114.80px;height:20.00px;background:rgba(34,197,94,0.120);border-radius:7.0px;"></div>
<span class="t" style="left:612.90px;top:1292.28px;font-size:9.00px;color:#22c55e;font-weight:700;letter-spacing:0.350px;">REAL-TIME TRIGGER</span>
<div class="b" style="left:44.00px;top:1363.00px;width:1568.00px;height:1.00px;background:#e4e9f1;"></div>
<span class="t" style="left:57.70px;top:1325.55px;font-size:9.50px;color:#334155;font-family:'DejaVu Sans Mono','Liberation Mono',monospace;letter-spacing:0.010px;">16 Feb 2026 20:25</span>
<span class="t" style="left:204.00px;top:1325.85px;font-size:10.80px;color:#0f172a;font-weight:700;">GH-JKT</span>
<span class="t" style="left:289.50px;top:1325.85px;font-size:10.50px;color:#334155;">SPA</span>
<span class="t" style="left:395.40px;top:1325.85px;font-size:11.80px;color:#1e293b;letter-spacing:-0.076px;">Andi Wijaya</span>
<span class="t" style="left:535.40px;top:1326.45px;font-size:10.50px;color:#334155;font-family:'DejaVu Sans Mono','Liberation Mono',monospace;">1103</span>
<div class="b" style="left:604.00px;top:1336.55px;width:114.80px;height:20.00px;background:rgba(245,158,11,0.120);border-radius:7.0px;"></div>
<span class="t" style="left:612.90px;top:1326.35px;font-size:9.00px;color:#f59e0b;font-weight:700;letter-spacing:0.350px;">UPSELL CATALOG</span>
<div class="b" style="left:44.00px;top:1397.00px;width:1568.00px;height:1.00px;background:#e4e9f1;"></div>
<span class="t" style="left:57.70px;top:1359.62px;font-size:9.50px;color:#334155;font-family:'DejaVu Sans Mono','Liberation Mono',monospace;letter-spacing:0.010px;">16 Feb 2026 20:22</span>
<span class="t" style="left:204.00px;top:1359.92px;font-size:10.80px;color:#0f172a;font-weight:700;">FS-SIN</span>
<span class="t" style="left:289.50px;top:1359.92px;font-size:10.50px;color:#334155;">FRONT</span>
<span class="t" style="left:395.40px;top:1359.92px;font-size:11.80px;color:#1e293b;letter-spacing:-0.104px;">James Morrison</span>
<span class="t" style="left:535.40px;top:1360.52px;font-size:10.50px;color:#334155;font-family:'DejaVu Sans Mono','Liberation Mono',monospace;">2201</span>
<div class="b" style="left:604.00px;top:1370.62px;width:114.80px;height:20.00px;background:rgba(34,197,94,0.120);border-radius:7.0px;"></div>
<span class="t" style="left:612.90px;top:1360.42px;font-size:9.00px;color:#22c55e;font-weight:700;letter-spacing:0.350px;">ROOM UPGRADE</span>
<div class="b" style="left:44.00px;top:1431.00px;width:1568.00px;height:1.00px;background:#e4e9f1;"></div>
<span class="t" style="left:57.70px;top:1393.69px;font-size:9.50px;color:#334155;font-family:'DejaVu Sans Mono','Liberation Mono',monospace;letter-spacing:0.010px;">16 Feb 2026 20:19</span>
<span class="t" style="left:204.00px;top:1393.99px;font-size:10.80px;color:#0f172a;font-weight:700;">RC-KUL</span>
<span class="t" style="left:289.50px;top:1393.99px;font-size:10.50px;color:#334155;">F&amp;B</span>
<span class="t" style="left:395.40px;top:1393.99px;font-size:11.80px;color:#1e293b;letter-spacing:-0.303px;">Lisa Tan</span>
<span class="t" style="left:535.40px;top:1394.59px;font-size:10.50px;color:#334155;font-family:'DejaVu Sans Mono','Liberation Mono',monospace;">1604</span>
<div class="b" style="left:604.00px;top:1404.69px;width:114.80px;height:20.00px;background:rgba(34,197,94,0.120);border-radius:7.0px;"></div>
<span class="t" style="left:612.90px;top:1394.49px;font-size:9.00px;color:#22c55e;font-weight:700;letter-spacing:0.350px;">REAL-TIME TRIGGER</span>
<div class="b" style="left:44.00px;top:1465.00px;width:1568.00px;height:1.00px;background:#e4e9f1;"></div>
<span class="t" style="left:57.70px;top:1427.76px;font-size:9.50px;color:#334155;font-family:'DejaVu Sans Mono','Liberation Mono',monospace;letter-spacing:0.010px;">16 Feb 2026 20:15</span>
<span class="t" style="left:204.00px;top:1428.06px;font-size:10.80px;color:#0f172a;font-weight:700;">SW-BKK</span>
<span class="t" style="left:289.50px;top:1428.06px;font-size:10.50px;color:#334155;">HOUSE</span>
<span class="t" style="left:395.40px;top:1428.06px;font-size:11.80px;color:#1e293b;letter-spacing:-0.256px;">Robert Kim</span>
<span class="t" style="left:535.40px;top:1428.66px;font-size:10.50px;color:#334155;font-family:'DejaVu Sans Mono','Liberation Mono',monospace;">805</span>
<div class="b" style="left:604.00px;top:1438.76px;width:114.80px;height:20.00px;background:rgba(34,197,94,0.120);border-radius:7.0px;"></div>
<span class="t" style="left:612.90px;top:1428.56px;font-size:9.00px;color:#22c55e;font-weight:700;letter-spacing:0.350px;">UPSELL SERVICE</span>
<span class="t" style="left:769.50px;top:1155.50px;font-size:11.80px;color:#1e293b;letter-spacing:-0.180px;">Balinese Massage</span>
<span class="t" style="left:967.70px;top:1154.90px;font-size:11.07px;color:#64748b;">Post-check-in relaxation</span>
<span class="t" style="left:1166.90px;top:1156.10px;font-size:10.20px;color:#0f172a;font-weight:700;font-family:'DejaVu Sans Mono','Liberation Mono',monospace;letter-spacing:0.068px;">Rp 450K</span>
<div class="b" style="left:1238.80px;top:1166.20px;width:52.60px;height:20.00px;background:rgba(6,182,212,0.120);border-radius:7.0px;"></div>
<span class="t" style="left:1247.70px;top:1156.00px;font-size:9.30px;color:#06b6d4;font-weight:700;letter-spacing:0.112px;">POINTS</span>
<div class="b" style="left:1390.30px;top:1166.20px;width:75.90px;height:20.00px;background:rgba(34,197,94,0.120);border-radius:7.0px;"></div>
<span class="t" style="left:1399.10px;top:1156.00px;font-size:9.30px;color:#22c55e;font-weight:700;letter-spacing:0.236px;">CONFIRMED</span>
<span class="t" style="left:1511.00px;top:1154.90px;font-size:10.90px;color:#334155;">WhatsApp</span>
<span class="t" style="left:769.50px;top:1189.57px;font-size:11.80px;color:#1e293b;letter-spacing:-0.141px;">Signatures Dinner</span>
<span class="t" style="left:967.70px;top:1188.97px;font-size:10.40px;color:#64748b;letter-spacing:0.304px;">Dining preference match</span>
<span class="t" style="left:1179.50px;top:1190.17px;font-size:10.20px;color:#0f172a;font-weight:700;font-family:'DejaVu Sans Mono','Liberation Mono',monospace;letter-spacing:0.024px;">Rp 1M</span>
<div class="b" style="left:1238.30px;top:1199.10px;width:86.20px;height:22.80px;background:#f1f5f9;border:1px solid #dbe2ea;border-radius:7.0px;"></div>
<span class="t" style="left:1248.40px;top:1190.07px;font-size:9.30px;color:#64748b;font-weight:700;letter-spacing:0.152px;">CREDIT CARD</span>
<div class="b" style="left:1390.30px;top:1200.30px;width:61.10px;height:20.00px;background:rgba(245,158,11,0.120);border-radius:7.0px;"></div>
<span class="t" style="left:1399.10px;top:1190.07px;font-size:9.30px;color:#f59e0b;font-weight:700;letter-spacing:0.173px;">PENDING</span>
<span class="t" style="left:1511.00px;top:1188.97px;font-size:10.90px;color:#334155;">Push</span>
<div class="b" style="left:1238.30px;top:1231.10px;width:83.20px;height:22.40px;background:#f1f5f9;border:1px solid #dbe2ea;border-radius:7.0px;"></div>
<div class="b" style="left:42.70px;top:1489.80px;width:1577.30px;height:101.70px;background:#fff;border:1.15px solid #e2e8f0;border-radius:9.2px;"></div></div>
<div class="shot" style="left:640.00px;top:1242.50px;width:1662.00px;height:415.00px;box-shadow:9px 11px 13px rgba(0,0,0,.45)"><div class="b" style="left:20.60px;top:-143.00px;width:1620.10px;height:523.60px;background:#fff;border:1.15px solid #e2e8f0;border-radius:9.2px;"></div>
<div class="b" style="left:42.70px;top:9.50px;width:1576.20px;height:349.30px;background:#fff;border:1.15px solid #e2e8f0;border-radius:9.2px;"></div>
<div class="b" style="left:44.00px;top:81.50px;width:1573.50px;height:1.00px;background:#e4e9f1;"></div>
<span class="t" style="left:61.20px;top:17.50px;font-size:16.30px;color:#0f172a;font-weight:700;letter-spacing:-0.063px;">Revenue Impact Tracking</span>
<span class="t" style="left:61.20px;top:38.50px;font-size:11.80px;color:#64748b;letter-spacing:0.051px;">Control view for upsell revenue attribution and performance.</span>
<div class="b" style="left:1441.00px;top:35.70px;width:68.30px;height:19.80px;background:rgba(34,197,94,0.120);border-radius:7.0px;"></div>
<span class="t" style="left:1449.70px;top:25.10px;font-size:9.30px;color:#22c55e;font-weight:700;letter-spacing:0.220px;">ON TRACK</span>
<span class="t" style="left:1517.20px;top:24.70px;font-size:11.80px;color:#64748b;letter-spacing:-0.283px;">Target: Rp 450M</span>
<div class="b" style="left:64.30px;top:102.60px;width:370.80px;height:105.40px;background:#f1f5f9;border:1.15px solid #e2e8f0;border-radius:9.2px;"></div>
<span class="t" style="left:79.40px;top:104.90px;font-size:11.80px;color:#475569;letter-spacing:-0.122px;">Total Upsell Revenue</span>
<span class="t" style="left:79.40px;top:139.80px;font-size:20.40px;color:#0f172a;font-weight:700;letter-spacing:0.126px;">Rp 287M</span>
<span class="t" style="left:79.40px;top:164.80px;font-size:10.40px;color:#22c55e;letter-spacing:-0.107px;">+12.4% vs last month</span>
<div class="b" style="left:452.00px;top:102.60px;width:370.40px;height:105.40px;background:#f1f5f9;border:1.15px solid #e2e8f0;border-radius:9.2px;"></div>
<span class="t" style="left:467.10px;top:104.90px;font-size:11.80px;color:#475569;letter-spacing:-0.057px;">Revenue per Available Room</span>
<span class="t" style="left:467.10px;top:139.80px;font-size:20.40px;color:#0f172a;font-weight:700;letter-spacing:-0.100px;">Rp 230K</span>
<span class="t" style="left:467.10px;top:164.80px;font-size:10.40px;color:#22c55e;letter-spacing:-0.017px;">+8.2% vs target</span>
<div class="b" style="left:839.30px;top:102.60px;width:370.90px;height:105.40px;background:#f1f5f9;border:1.15px solid #e2e8f0;border-radius:9.2px;"></div>
<span class="t" style="left:854.40px;top:104.90px;font-size:11.80px;color:#475569;letter-spacing:-0.094px;">Conversion Rate</span>
<span class="t" style="left:854.40px;top:139.80px;font-size:20.40px;color:#0f172a;font-weight:700;letter-spacing:-0.058px;">18.4%</span>
<span class="t" style="left:854.40px;top:164.80px;font-size:10.40px;color:#64748b;letter-spacing:-0.042px;">Industry avg: 8.5%</span>
<div class="b" style="left:1227.00px;top:102.60px;width:370.10px;height:105.40px;background:#f1f5f9;border:1.15px solid #e2e8f0;border-radius:9.2px;"></div>
<span class="t" style="left:1242.10px;top:104.90px;font-size:11.80px;color:#475569;letter-spacing:-0.024px;">Avg Order Value</span>
<span class="t" style="left:1242.10px;top:139.80px;font-size:20.40px;color:#0f172a;font-weight:700;letter-spacing:-0.033px;">Rp 892K</span>
<span class="t" style="left:1242.10px;top:164.80px;font-size:10.40px;color:#f59e0b;letter-spacing:-0.220px;">-2.1% vs last week</span>
<div class="b" style="left:64.30px;top:224.90px;width:1532.80px;height:112.10px;background:#f1f5f9;border:1.15px solid #e2e8f0;border-radius:9.2px;"></div>
<span class="t" style="left:79.40px;top:229.10px;font-size:12.60px;color:#0f172a;font-weight:700;letter-spacing:0.151px;">Monthly Target Progress</span>
<span class="t" style="left:1478.30px;top:229.10px;font-size:10.40px;color:#64748b;letter-spacing:0.326px;">Rp 287M of Rp 450M</span>
<div class="b" style="left:79.40px;top:269.00px;width:1503.30px;height:10.30px;background:#e2e8f0;border-radius:5.2px;"></div>
<div class="b" style="left:79.40px;top:269.00px;width:946.90px;height:10.30px;background:linear-gradient(90deg,#3b82f6,#06b6d4);border-radius:5.2px;"></div>
<span class="t" style="left:223.94px;top:275.50px;font-size:10.40px;color:#64748b;">Room Upgrades</span>
<span class="t" style="left:242.13px;top:294.50px;font-size:9.50px;color:#0f172a;font-weight:700;font-family:'DejaVu Sans Mono','Liberation Mono',monospace;">Rp 142M</span>
<span class="t" style="left:612.55px;top:275.50px;font-size:10.40px;color:#64748b;">F&amp;B Upsells</span>
<span class="t" style="left:624.20px;top:294.50px;font-size:9.50px;color:#0f172a;font-weight:700;font-family:'DejaVu Sans Mono','Liberation Mono',monospace;">Rp 78M</span>
<span class="t" style="left:983.99px;top:275.50px;font-size:10.40px;color:#64748b;">Spa &amp; Wellness</span>
<span class="t" style="left:1003.60px;top:294.50px;font-size:9.50px;color:#0f172a;font-weight:700;font-family:'DejaVu Sans Mono','Liberation Mono',monospace;">Rp 47M</span>
<span class="t" style="left:1371.12px;top:275.50px;font-size:10.40px;color:#64748b;">Experiences</span>
<span class="t" style="left:1382.80px;top:294.50px;font-size:9.50px;color:#0f172a;font-weight:700;font-family:'DejaVu Sans Mono','Liberation Mono',monospace;">Rp 20M</span></div>
</body></html>
